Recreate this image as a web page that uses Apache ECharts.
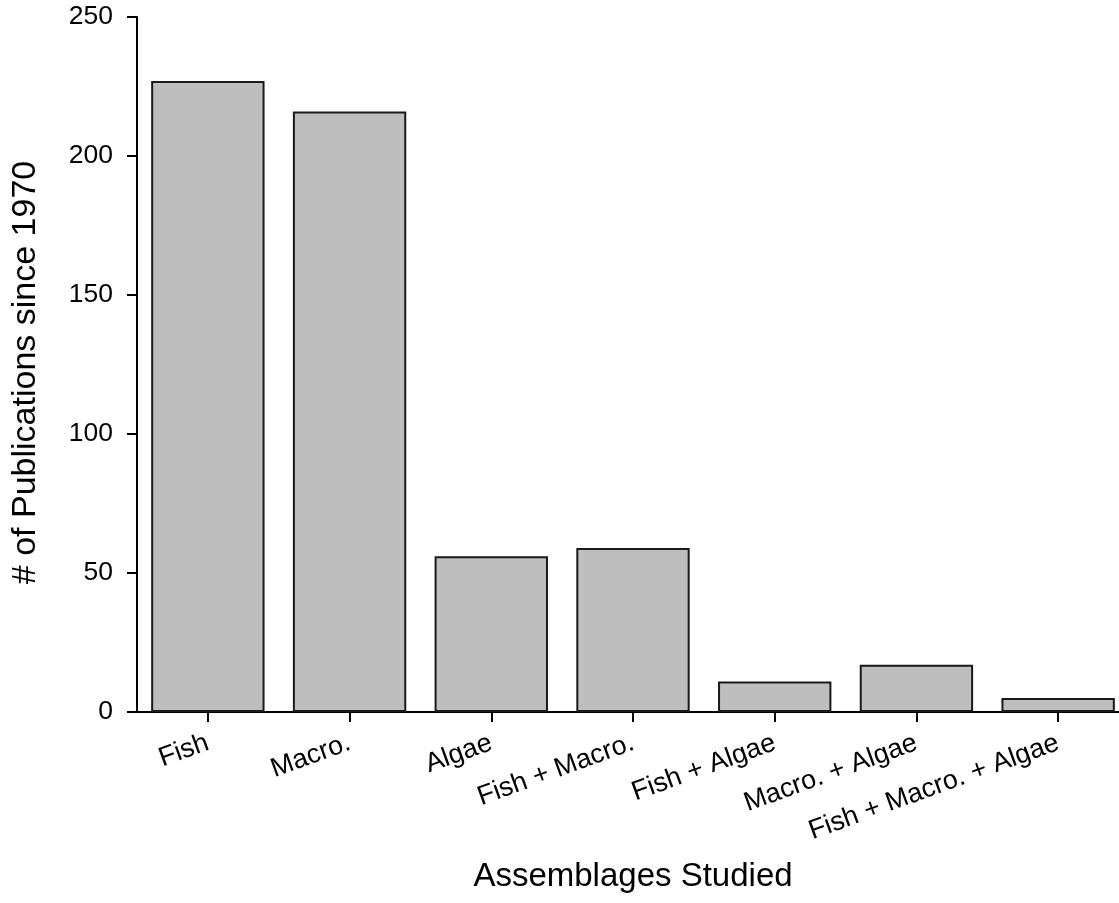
<!DOCTYPE html>
<html>
<head>
<meta charset="utf-8">
<script src="https://cdn.jsdelivr.net/npm/echarts@6/dist/echarts.min.js"></script>
<style>
  html, body { margin: 0; padding: 0; background: #ffffff; }
  #chart { width: 1119px; height: 903px; }
</style>
</head>
<body>
<div id="chart"></div>
<script>
// Publications per studied assemblage
const categories = ['Fish', 'Macro.', 'Algae', 'Fish + Macro.', 'Fish + Algae', 'Macro. + Algae', 'Fish + Macro. + Algae'];
const publications = [227, 216, 56, 59, 11, 17, 5];
const yTicks = [0, 50, 100, 150, 200, 250];

const FONT = '"Liberation Sans", Arial, sans-serif';
const chart = echarts.init(document.getElementById('chart'), null, { renderer: 'canvas' });

chart.setOption({
  backgroundColor: '#ffffff',
  animation: false,
  // the plot band runs slightly past the right edge of the canvas
  grid: { left: 137, top: 17, width: 992, bottom: 191, containLabel: false, outerBoundsMode: 'none' },
  xAxis: {
    type: 'category',
    data: categories,
    name: 'Assemblages Studied',
    nameLocation: 'middle',
    nameGap: 148,
    nameTextStyle: { fontFamily: FONT, fontSize: 33, color: '#000' },
    axisLine: { show: true, lineStyle: { color: '#000', width: 2 } },
    axisTick: { show: true, alignWithLabel: true, length: 10, lineStyle: { color: '#000', width: 2 } },
    axisLabel: { rotate: 20, margin: 30, fontFamily: FONT, fontSize: 27, color: '#000', interval: 0 },
    splitLine: { show: false }
  },
  yAxis: {
    type: 'value',
    min: yTicks[0],
    max: yTicks[yTicks.length - 1],
    interval: yTicks[1] - yTicks[0],
    name: '# of Publications since 1970',
    nameLocation: 'middle',
    nameGap: 94,
    nameTextStyle: { fontFamily: FONT, fontSize: 34, color: '#000', padding: [0, 16, 0, 0] },
    axisLine: { show: true, lineStyle: { color: '#000', width: 2 } },
    axisTick: { show: true, length: 10, lineStyle: { color: '#000', width: 2 } },
    axisLabel: { margin: 24, fontFamily: FONT, fontSize: 26.5, color: '#000' },
    splitLine: { show: false }
  },
  series: [{
    type: 'bar',
    data: publications,
    barCategoryGap: '20%',
    itemStyle: { color: '#bebebe', borderColor: '#1a1a1a', borderWidth: 2 }
  }]
});
</script>
</body>
</html>
